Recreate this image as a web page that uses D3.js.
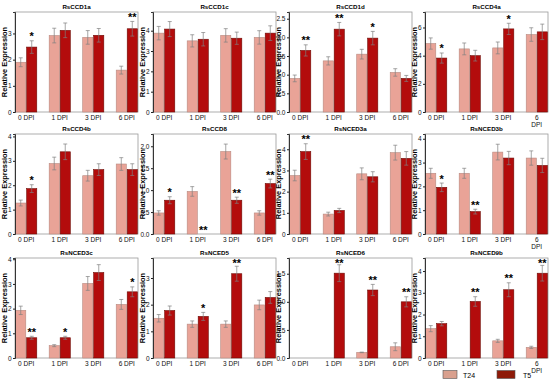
<!DOCTYPE html>
<html>
<head>
<meta charset="utf-8">
<script src="https://cdn.jsdelivr.net/npm/d3@7/dist/d3.min.js"></script>
<style>
body { margin: 0; background: #fff; }
text { font-family: "Liberation Sans", Arial, sans-serif; }
</style>
</head>
<body>
<svg width="550" height="381"></svg>
<script>
// values
const genes = ["RsCCD1a", "RsCCD1c", "RsCCD1d", "RsCCD4a",
               "RsCCD4b", "RsCCD8", "RsNCED3a", "RsNCED3b",
               "RsNCED3c", "RsNCED5", "RsNCED6", "RsNCED9b"];
const dpi = ["0 DPI", "1 DPI", "3 DPI", "6 DPI"];
const series = ["T24", "T5"];

const t24 = [[1.9, 2.92, 2.85, 1.6], [3.88, 3.5, 3.77, 3.67], [0.9, 1.37, 1.55, 1.06], [4.86, 4.48, 4.55, 5.5],
             [1.27, 2.89, 2.39, 2.87], [0.48, 0.97, 1.88, 0.48], [2.76, 0.94, 2.84, 3.84], [2.55, 2.55, 3.44, 3.19],
             [1.93, 0.5, 3.02, 2.17], [1.49, 1.27, 1.27, 1.99], [0, 0, 0.1, 0.2], [1.35, 0, 0.79, 0.49]];
const t24Err = [[0.17, 0.28, 0.26, 0.15], [0.33, 0.3, 0.33, 0.33], [0.09, 0.11, 0.13, 0.1], [0.4, 0.42, 0.42, 0.48],
                [0.12, 0.26, 0.22, 0.26], [0.05, 0.11, 0.17, 0.05], [0.25, 0.09, 0.28, 0.35], [0.21, 0.21, 0.33, 0.3],
                [0.17, 0.04, 0.28, 0.2], [0.14, 0.12, 0.12, 0.18], [0, 0, 0.005, 0.07], [0.14, 0, 0.07, 0.05]];
const t5 = [[2.48, 3.12, 2.93, 3.18], [4.08, 3.58, 3.63, 3.88], [1.65, 2.22, 1.98, 0.9], [3.83, 4.0, 5.9, 5.69],
            [1.86, 3.37, 2.64, 2.64], [0.77, 0, 0.77, 1.15], [3.89, 1.11, 2.7, 3.57], [1.96, 0.94, 3.19, 2.88],
            [0.82, 0.82, 3.46, 2.68], [1.78, 1.56, 3.16, 2.27], [0, 1.51, 1.21, 1.0], [1.58, 2.6, 3.14, 3.9]];
const t5Err = [[0.24, 0.28, 0.26, 0.28], [0.37, 0.33, 0.3, 0.36], [0.15, 0.18, 0.18, 0.08], [0.36, 0.38, 0.4, 0.55],
               [0.16, 0.32, 0.24, 0.24], [0.08, 0, 0.07, 0.1], [0.37, 0.1, 0.24, 0.32], [0.18, 0.1, 0.28, 0.3],
               [0.06, 0.06, 0.32, 0.2], [0.17, 0.15, 0.28, 0.22], [0, 0.15, 0.1, 0.09], [0.1, 0.22, 0.32, 0.36]];
const sig = [["*", "", "", "**"], ["", "", "", ""], ["**", "**", "*", ""], ["*", "", "*", ""],
             ["*", "", "", ""], ["*", "**", "**", "**"], ["**", "", "", ""], ["*", "**", "", ""],
             ["**", "*", "", "*"], ["", "*", "**", ""], ["", "**", "**", "**"], ["", "**", "**", "**"]];
const yMax = [3.82, 4.92, 2.68, 7.1, 4.1, 2.28, 4.72, 4.2, 4.05, 3.75, 1.78, 4.6];
const yTicks = [[0, 1, 2, 3], [0, 1, 2, 3, 4], [0, 0.5, 1, 1.5, 2, 2.5], [0, 2, 4, 6],
                [0, 1, 2, 3, 4], [0, 0.5, 1, 1.5, 2], [0, 1, 2, 3, 4], [0, 1, 2, 3, 4],
                [0, 1, 2, 3, 4], [0, 1, 2, 3], [0, 0.5, 1, 1.5], [0, 1, 2, 3, 4]];

const colours = {T24: "#e9a397", T5: "#b30c0c"};
const edges = {T24: "#b88a80", T5: "#6e0c06"};

const svg = d3.select("svg");
const colX = [15, 153, 289, 425];   // left axis of each column
const rowTop = [12, 134, 258];
const plotW = 123, plotH = 100;

genes.forEach((gene, i) => {
  const col = i % 4, row = Math.floor(i / 4);
  const x0 = colX[col], y0 = rowTop[row];

  svg.append("clipPath").attr("id", "clip" + i)
    .append("rect")
    .attr("x", x0 - 16).attr("y", y0 - 9)
    .attr("width", plotW + 17).attr("height", plotH + 26);
  const g = svg.append("g").attr("clip-path", "url(#clip" + i + ")");

  const x = d3.scaleBand().domain(dpi).range([x0, x0 + plotW]).paddingInner(0.37).paddingOuter(0.02);
  const xs = d3.scaleBand().domain(series).range([0, x.bandwidth()]).paddingInner(0.08);
  const y = d3.scaleLinear().domain([0, yMax[i]]).range([y0 + plotH, y0]);

  // frame
  g.append("rect")
    .attr("x", x0).attr("y", y0)
    .attr("width", plotW).attr("height", plotH)
    .attr("fill", "none").attr("stroke", "#9a9a9a").attr("stroke-width", 0.8);

  const rows = [];
  dpi.forEach((d, j) => {
    rows.push({dpi: d, s: "T24", v: t24[i][j], e: t24Err[i][j], sig: ""});
    rows.push({dpi: d, s: "T5", v: t5[i][j], e: t5Err[i][j], sig: sig[i][j]});
  });

  g.selectAll("rect.bar")
    .data(rows.filter(d => d.v > 0))
    .enter().append("rect")
    .attr("class", "bar")
    .attr("x", d => x(d.dpi) + xs(d.s))
    .attr("y", d => y(d.v))
    .attr("width", xs.bandwidth())
    .attr("height", d => y(0) - y(d.v))
    .attr("fill", d => colours[d.s])
    .attr("stroke", d => edges[d.s])
    .attr("stroke-width", 0.6);

  // error bars
  const eb = g.selectAll("g.err")
    .data(rows.filter(d => d.e > 0))
    .enter().append("g")
    .attr("class", "err")
    .attr("stroke", "#808080").attr("stroke-width", 0.7);
  const cx = d => x(d.dpi) + xs(d.s) + xs.bandwidth() / 2;
  eb.append("line")
    .attr("x1", cx).attr("x2", cx)
    .attr("y1", d => y(d.v - d.e)).attr("y2", d => y(d.v + d.e));
  eb.append("line")
    .attr("x1", d => cx(d) - 2).attr("x2", d => cx(d) + 2)
    .attr("y1", d => y(d.v + d.e)).attr("y2", d => y(d.v + d.e));
  eb.append("line")
    .attr("x1", d => cx(d) - 2).attr("x2", d => cx(d) + 2)
    .attr("y1", d => y(d.v - d.e)).attr("y2", d => y(d.v - d.e));

  // significance stars, kept inside the plot box
  g.selectAll("text.sig")
    .data(rows.filter(d => d.sig))
    .enter().append("text")
    .attr("class", "sig")
    .attr("x", cx)
    .attr("y", d => Math.max(y(d.v + d.e) - 0.5, y0 + 9))
    .attr("text-anchor", "middle")
    .attr("font-size", 11).attr("font-weight", "bold")
    .text(d => d.sig);

  // y axis
  const fmt = yTicks[i].some(t => t % 1) ? d3.format(".1f") : d3.format("d");
  const ya = g.append("g")
    .attr("transform", "translate(" + x0 + ",0)")
    .call(d3.axisLeft(y).tickValues(yTicks[i]).tickFormat(fmt).tickSize(2).tickPadding(1.5));
  ya.select(".domain").attr("stroke", "#222").attr("stroke-width", 0.9);
  ya.selectAll(".tick line").attr("stroke", "#222");
  ya.selectAll(".tick text").attr("font-size", 6.5).attr("fill", "#111")
    .style("font-family", "'Liberation Sans', Arial, sans-serif");

  // x labels
  const xl = g.selectAll("text.xl")
    .data(dpi)
    .enter().append("text")
    .attr("class", "xl")
    .attr("x", d => x(d) + x.bandwidth() / 2)
    .attr("y", y0 + plotH + 7.5)
    .attr("text-anchor", "middle")
    .attr("font-size", 6.5).attr("fill", "#111");
  xl.each(function (d, j) {
    const t = d3.select(this);
    if (col === 3 && j === 3) {
      t.append("tspan").attr("x", x(d) + x.bandwidth() / 2).text("6");
      t.append("tspan").attr("x", x(d) + x.bandwidth() / 2).attr("dy", 7).text("DPI");
    } else {
      t.text(d);
    }
  });

  // title
  g.append("text")
    .attr("x", x0 + plotW / 2).attr("y", y0 - 3)
    .attr("text-anchor", "middle")
    .attr("font-size", 6.2).attr("font-weight", "bold")
    .text(gene);

  // y title
  g.append("text")
    .attr("transform", "translate(" + (x0 - 8) + "," + (y0 + plotH / 2) + ") rotate(-90)")
    .attr("text-anchor", "middle")
    .attr("font-size", 7.4).attr("font-weight", "bold")
    .text("Relative Expression");
});

// legend
const legend = svg.append("g").attr("id", "legend");
const legX = {T24: 443, T5: 497}, legW = {T24: 14, T5: 18}, legTx = {T24: 463, T5: 523};
series.forEach(s => {
  legend.append("rect")
    .attr("x", legX[s]).attr("y", 370.5)
    .attr("width", legW[s]).attr("height", 8)
    .attr("fill", s === "T24" ? "#d9a08e" : "#8e1a08")
    .attr("stroke", "#555").attr("stroke-width", 0.6);
  legend.append("text")
    .attr("x", legTx[s]).attr("y", 377.5)
    .attr("font-size", 7)
    .text(s);
});
</script>
</body>
</html>
